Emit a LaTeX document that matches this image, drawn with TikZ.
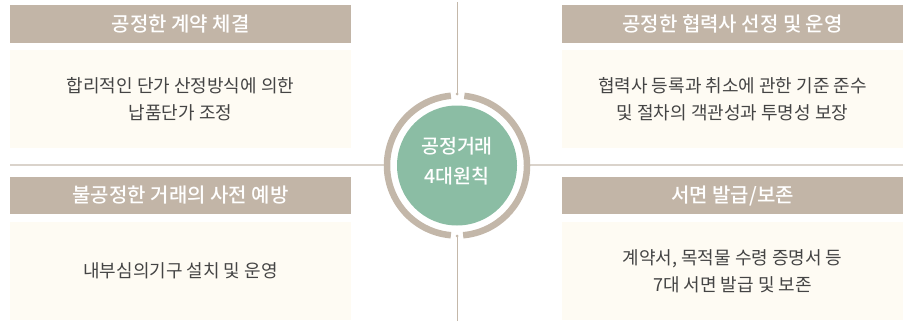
\documentclass[tikz,border=0pt]{standalone}
\usepackage{fontspec}
\newfontfamily\cjk{Noto Sans CJK KR}
\newfontfamily\cjkm{Noto Sans CJK KR Medium}
\definecolor{hdrcol}{HTML}{C2B5A7}
\definecolor{bodycol}{HTML}{FEFBF3}
\definecolor{greencol}{HTML}{8BBDA4}
\definecolor{ringcol}{HTML}{C3B7A9}
\definecolor{hlinecol}{HTML}{DAD3CB}
\definecolor{vlinecol}{HTML}{C4B8AA}
\definecolor{txtcol}{HTML}{444444}
\tikzset{
  hdr/.style={fill=hdrcol, text=white, minimum width=341pt, minimum height=38pt, inner sep=0pt,
    font=\cjkm\fontsize{20}{22}\selectfont},
  bodybox/.style={fill=bodycol, text=txtcol, minimum width=341pt, minimum height=98pt, inner sep=0pt,
    align=center, font=\cjk\fontsize{18}{27}\selectfont},
  ringarc/.style={draw=ringcol, line width=6.5pt},
  hline/.style={draw=hlinecol, line width=2pt},
  vline/.style={draw=vlinecol, line width=0.9pt},
  enddot/.style={circle, fill=vlinecol, inner sep=0pt, minimum size=3pt},
}
\begin{document}
\begin{tikzpicture}[x=1pt,y=-1pt]
\useasboundingbox (0,0) rectangle (904,321);
% boxes
\node[hdr] (h1) at (180.5,24) {공정한 계약 체결};
\node[bodybox] (b1) at (180.5,99) {합리적인 단가 산정방식에 의한\\납품단가 조정};
\node[hdr] (h2) at (732.5,24) {공정한 협력사 선정 및 운영};
\node[bodybox] (b2) at (732.5,99) {협력사 등록과 취소에 관한 기준 준수\\및 절차의 객관성과 투명성 보장};
\node[hdr, minimum height=37pt] (h3) at (180.5,195.5) {불공정한 거래의 사전 예방};
\node[bodybox] (b3) at (180.5,271) {내부심의기구 설치 및 운영};
\node[hdr, minimum height=37pt] (h4) at (732.5,195.5) {서면 발급/보존};
\node[bodybox] (b4) at (732.5,271) {계약서, 목적물 수령 증명서 등\\7대 서면 발급 및 보존};
% guide lines
\coordinate (hlL) at (10,164.5);
\coordinate (hlLe) at (388,164.5);
\coordinate (hlR) at (903,164.5);
\coordinate (hlRe) at (526,164.5);
\coordinate (vtT) at (457,2);
\coordinate (vtTe) at (457,94);
\coordinate (vbB) at (457,321);
\coordinate (vbBe) at (457,236);
\draw[hline] (hlL) -- (hlLe);
\draw[hline] (hlR) -- (hlRe);
\draw[vline] (vtT) -- (vtTe);
\draw[vline] (vbB) -- (vbBe);
\node[enddot] (dt) at (vtTe) {};
\node[enddot] (db) at (vbBe) {};
% centre
\node[circle, fill=greencol, minimum size=120pt, inner sep=0pt] (c) at (457,165.5) {};
\node[text=white, align=center, inner sep=0pt, font=\cjkm\fontsize{19.5}{30}\selectfont]
  (ct) at (457,161.5) {공정거래\\4대원칙};
\draw[ringarc] (c.center) ++(95:70) arc[start angle=95, end angle=265, radius=70];
\draw[ringarc] (c.center) ++(-84:70) arc[start angle=-84, end angle=85, radius=70];
\end{tikzpicture}
\end{document}
